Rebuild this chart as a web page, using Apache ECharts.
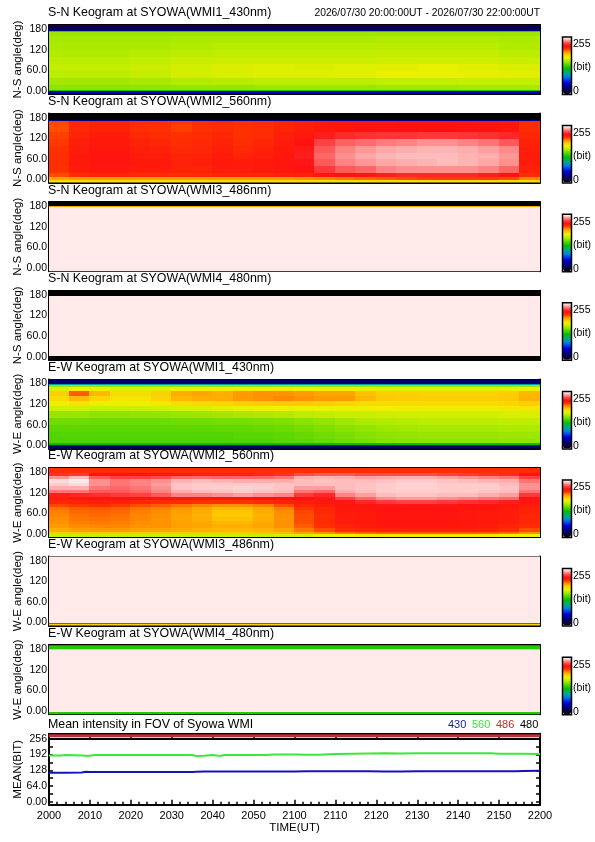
<!DOCTYPE html>
<html><head><meta charset="utf-8">
<script src="https://cdn.jsdelivr.net/npm/echarts@6/dist/echarts.min.js"></script>
<style>html,body{margin:0;padding:0;background:#fff}#c{width:595px;height:842px}</style>
</head><body><div id="c"></div>
<script>
// ---------------- DATA ----------------
const timeTickLabels = ['2000','2010','2020','2030','2040','2050','2100','2110','2120','2130','2140','2150','2200'];
const angleTickValues = [0, 60, 120, 180];
const angleTickLabels = ['0.00', '60.0', '120', '180'];
const angleTickMarks = [0, 30, 60, 90, 120, 150, 180];
const meanTickValues = [0, 64, 128, 192, 256];
const meanTickLabels = ['0.00', '64.0', '128', '192', '256'];
const meanTickMarks = [0, 32, 64, 96, 128, 160, 192, 224, 256];

const headerText = '2026/07/30 20:00:00UT - 2026/07/30 22:00:00UT';
const panelTitles = [
  'S-N Keogram at SYOWA(WMI1_430nm)',
  'S-N Keogram at SYOWA(WMI2_560nm)',
  'S-N Keogram at SYOWA(WMI3_486nm)',
  'S-N Keogram at SYOWA(WMI4_480nm)',
  'E-W Keogram at SYOWA(WMI1_430nm)',
  'E-W Keogram at SYOWA(WMI2_560nm)',
  'E-W Keogram at SYOWA(WMI3_486nm)',
  'E-W Keogram at SYOWA(WMI4_480nm)'
];
const panelAxisNames = ['N-S angle(deg)','N-S angle(deg)','N-S angle(deg)','N-S angle(deg)',
                        'W-E angle(deg)','W-E angle(deg)','W-E angle(deg)','W-E angle(deg)'];
const meanTitle = 'Mean intensity in FOV of Syowa WMI';
const meanLegend = ['430', '560', '486', '480'];

// Keograms: angle bin edges (deg) and rows of intensity (bit); each row is split evenly over 20:00-22:00 UT
const sn430Edges = [-9,-4,0,4,20,40,60,80,100,120,140,160,172,176,180,192];
const sn430Rows = [
  [20],
  [45],
  [120],
  [143,143,144,145,145,146,146,146,147,147,148,148],
  [147,147,148,150,151,152,152,152,153,153,154,154],
  [152,152,154,158,160,161,161,162,164,164,163,162],
  [154,154,156,158,160,161,160,161,162,163,162,160],
  [152,152,153,155,156,156,156,156,157,157,157,155],
  [150,150,151,152,153,153,153,153,154,154,154,152],
  [149,149,149,150,151,151,151,151,152,152,152,150],
  [148,148,148,149,149,149,149,149,150,150,150,149],
  [146],
  [125],
  [30],
  [18]
];

const sn560Edges = [-9,0,8,20,40,60,80,100,120,140,160,172,176,192];
const sn560Rows = [
  [172],
  [186,188,188,188,188,188,188,188,188,188,188,188,190,192,194,196,198,200,202,202,202,202,200,192],
  [200,206,208,208,206,206,205,206,208,208,208,209,210,214,216,218,220,222,222,222,222,220,216,206],
  [204,212,214,214,212,212,209,210,212,212,213,214,216,226,232,234,238,240,240,240,240,238,234,210],
  [205,213,215,215,213,213,210,211,213,212,213,214,218,232,238,241,243,244,245,246,245,243,240,212],
  [205,213,215,215,212,212,209,210,212,210,212,214,220,234,240,243,245,246,246,246,245,244,241,212],
  [204,212,214,214,211,210,207,208,211,207,210,213,219,232,238,241,243,244,245,245,244,242,239,211],
  [203,211,213,213,209,208,205,207,209,205,208,212,216,228,233,235,237,238,240,240,238,236,232,210],
  [202,210,212,212,207,206,204,206,208,204,206,211,213,220,223,224,225,225,226,226,225,224,222,208],
  [200,207,209,209,205,204,202,204,206,204,205,209,211,214,215,216,216,217,217,217,216,216,215,206],
  [201,207,209,209,206,205,203,205,207,205,206,209,211,213,215,215,215,216,216,216,216,215,214,206],
  [30],
  [0]
];

const sn486Edges = [-9,180,183,192];
const sn486Rows = [[252], [185], [0]];

const sn480Edges = [-9,3,178,192];
const sn480Rows = [[0], [252], [0]];

const ew430Edges = [-9,-1,3,8,20,40,60,80,100,115,130,145,160,170,176,180,192];
const ew430Rows = [
  [25],
  [55],
  [115],
  [130,130,130,130,130,130,130,130,130,131,131,132,133,135,137,139,141,142,143,143,143,143,144,144],
  [131,131,131,131,131,131,131,131,131,132,132,133,135,137,139,141,143,144,145,145,145,145,146,146],
  [133,133,133,133,133,133,133,133,134,134,135,136,138,140,142,144,146,147,148,148,148,148,149,149],
  [137,137,136,136,136,136,137,137,138,138,139,140,142,144,147,149,150,151,152,152,152,152,153,153],
  [145,145,143,143,144,144,145,146,147,148,149,150,152,153,155,156,157,158,158,158,158,158,159,160],
  [157,158,155,155,156,157,159,160,162,164,165,166,166,166,166,166,166,167,167,167,167,167,168,169],
  [166,170,164,164,166,168,172,173,174,176,178,178,178,176,174,172,172,172,172,172,172,172,174,176],
  [172,182,174,170,170,174,182,184,184,188,190,192,190,188,188,182,178,177,176,176,176,176,178,183],
  [176,198,182,172,172,176,184,186,184,188,190,190,188,186,186,180,177,176,175,175,175,175,177,182],
  [160,165,164,160,160,161,164,165,165,166,166,167,166,165,165,163,162,162,162,162,162,162,163,164],
  [145],
  [90],
  [25]
];

const ew560Edges = [-9,0,8,20,30,40,50,60,70,80,90,100,110,120,130,140,150,160,170,180,192];
const ew560Rows = [
  [155,155,155,155,155,155,155,155,155,155,156,158,160,163,166,168,168,168,168,168,168,168,167,165],
  [176,178,178,178,178,178,178,178,178,178,179,181,186,190,194,196,198,198,198,198,198,197,195,190],
  [184,187,188,188,186,186,184,183,182,182,183,186,194,200,206,208,210,210,210,210,210,209,206,200],
  [188,191,192,192,190,190,187,186,184,184,186,190,198,204,210,212,214,214,214,214,213,212,210,205],
  [190,193,194,193,191,190,187,185,182,182,185,190,200,206,212,213,215,215,215,215,214,213,212,207],
  [191,194,195,194,192,190,186,184,180,180,184,190,200,206,212,213,215,215,215,215,214,213,212,208],
  [192,195,196,195,192,190,186,183,178,178,183,190,200,206,212,213,215,215,215,215,214,213,212,208],
  [193,196,197,196,193,191,187,184,179,179,184,191,201,207,213,213,215,215,215,215,214,213,212,209],
  [195,198,199,198,195,193,189,186,182,182,186,193,203,208,213,214,216,216,216,216,215,214,213,210],
  [201,203,204,203,200,198,195,192,190,190,193,200,207,211,215,215,218,218,218,218,217,216,215,212],
  [208,210,211,210,208,206,206,204,204,204,206,210,212,214,218,222,226,228,228,226,224,222,220,214],
  [212,214,215,215,214,214,214,213,214,214,216,216,216,218,228,234,240,242,242,240,238,236,234,218],
  [220,222,224,226,228,232,238,238,240,242,240,238,226,222,238,242,246,247,247,246,246,244,242,226],
  [236,236,232,232,234,238,244,246,247,248,247,246,236,234,244,246,248,248,248,248,248,247,246,236],
  [244,244,236,234,236,240,247,248,248,249,248,247,242,242,246,247,248,249,249,248,248,248,247,240],
  [248,250,240,236,238,242,247,248,248,248,248,247,246,246,246,247,248,249,249,248,248,248,246,240],
  [250,252,240,236,238,240,245,246,245,244,244,244,246,247,246,246,247,248,248,247,246,245,244,236],
  [240,246,232,228,228,230,234,235,234,234,234,236,244,245,244,242,243,244,244,242,240,238,236,228],
  [224,226,218,216,216,218,218,220,220,220,222,224,230,232,232,230,230,230,230,228,226,224,222,218],
  [205]
];

const ew486Edges = [-9,-4,-1,192];
const ew486Rows = [[175], [222], [252]];

const ew480Edges = [-9,-2,0,180,182,192];
const ew480Rows = [[122], [172], [252], [172], [122]];

// Mean intensity in FOV (minutes after 20:00 UT)
const meanTimes = [0,3,4,8,9,10,11,20,30,35,36,38,40,41,42,43,50,53,55,60,63,66,70,78,82,86,90,100,108,110,114,116,120];
const mean560   = [188,188,190,188,187,187,190,190,190,190,186,187,190,188,187,190,190,190,192,192,191,191,194,196,197,196,197,197,197,195,195,195,194];
const mean430   = [118,118,118,119,122,121,121,121,121,121,122,123,123,123,123,123,123,123,123,123,124,124,124,124,123,123,124,124,124,124,124,125,126];
const flatTimes = [0, 120];
const mean486   = [268, 268];
const mean480   = [255, 255];

// colour table (0 -> 255 bit)
const colorTable = ['#000000','#14003c','#000070','#0000a8','#0000e0','#0040f0','#0080e0','#00a0a0',
  '#00b060','#00c000','#40d000','#80e000','#c0ee00','#f0f000','#ffc800','#ff8c00','#ff3000',
  '#ff1010','#ff4848','#ffa0a0','#ffffff'];

// ---------------- CHART ----------------
const keograms = [
  [sn430Edges, sn430Rows], [sn560Edges, sn560Rows], [sn486Edges, sn486Rows], [sn480Edges, sn480Rows],
  [ew430Edges, ew430Rows], [ew560Edges, ew560Rows], [ew486Edges, ew486Rows], [ew480Edges, ew480Rows]
];
const SPAN = 120;
function cells(edges, rows) {
  const out = [];
  rows.forEach((row, r) => {
    const n = row.length;
    row.forEach((v, c) => out.push([c * SPAN / n, (c + 1) * SPAN / n, edges[r], edges[r + 1], v]));
  });
  return out;
}

const FONT = '"Liberation Sans", Arial, sans-serif';
const BOX_L = 49, BOX_W = 491;
const KEO_H = 69;
const tops = [25, 113.6, 202.2, 290.8, 379.4, 468, 556.6, 645.2];
const meanTop = 733.8, MEAN_H = 71;

const lineBlack = {color: '#000', width: 2};
const tickStyle = {color: '#000', width: 1.5};

function xAxes(gi, showLabels) {
  const base = {
    gridIndex: gi, type: 'value', min: 0, max: SPAN, interval: 10,
    axisLine: {onZero: false, lineStyle: lineBlack},
    axisTick: {inside: true, length: 5, lineStyle: tickStyle},
    minorTick: {show: true, splitNumber: 5, length: 3, lineStyle: tickStyle},
    splitLine: {show: false}, minorSplitLine: {show: false}
  };
  return [
    Object.assign({}, base, {position: 'bottom',
      axisLabel: showLabels ? {show: true, margin: 6, color: '#000', fontFamily: FONT, fontSize: 11,
        formatter: v => timeTickLabels[Math.round(v / 10)]} : {show: false},
      name: showLabels ? 'TIME(UT)' : '', nameLocation: 'middle', nameGap: 17, nameMoveOverlap: false,
      nameTextStyle: {color: '#000', fontFamily: FONT, fontSize: 11.5}}),
    Object.assign({}, base, {position: 'top', axisLabel: {show: false}})
  ];
}
function yAxes(gi, min, max, tickVals, tickLabels, tickMarks, name) {
  const base = {
    gridIndex: gi, type: 'value', min: min, max: max,
    axisLine: {onZero: false, lineStyle: lineBlack},
    axisTick: {inside: true, length: 4, lineStyle: tickStyle, customValues: tickMarks},
    splitLine: {show: false}
  };
  return [
    Object.assign({}, base, {position: 'left',
      axisLabel: {show: true, margin: 2, color: '#000', fontFamily: FONT, fontSize: 10.5,
        customValues: tickVals, formatter: v => tickLabels[tickVals.indexOf(v)]},
      name: name, nameLocation: 'middle', nameRotate: 90, nameGap: 25, nameMoveOverlap: false,
      nameTextStyle: {color: '#000', fontFamily: FONT, fontSize: 11.5}}),
    Object.assign({}, base, {position: 'right', axisLabel: {show: false}})
  ];
}

const grid = [], xAxis = [], yAxis = [], series = [], visualMap = [], graphic = [];

keograms.forEach((k, i) => {
  grid.push({left: BOX_L, top: tops[i], width: BOX_W, height: KEO_H, show: false,
             containLabel: false, outerBoundsMode: 'none'});
  xAxis.push(...xAxes(i, false));
  yAxis.push(...yAxes(i, -9, 192, angleTickValues, angleTickLabels, angleTickMarks, panelAxisNames[i]));
  series.push({
    type: 'custom', xAxisIndex: 2 * i, yAxisIndex: 2 * i, clip: true,
    dimensions: ['t0', 't1', 'a0', 'a1', 'v'],
    encode: {x: [0, 1], y: [2, 3]},
    data: cells(k[0], k[1]),
    renderItem: function (params, api) {
      const p0 = api.coord([api.value(0), api.value(3)]);
      const p1 = api.coord([api.value(1), api.value(2)]);
      const x0 = Math.floor(p0[0]), y0 = Math.floor(p0[1]);
      const x1 = Math.ceil(p1[0]), y1 = Math.ceil(p1[1]);
      return {type: 'rect', shape: {x: x0, y: y0, width: x1 - x0, height: y1 - y0},
              style: {fill: api.visual('color')}};
    }
  });
  const cbTop = tops[i] + 12.5;
  visualMap.push({
    type: 'continuous', min: 0, max: 255, seriesIndex: i, dimension: 4,
    calculable: false, orient: 'vertical', left: 563, top: cbTop, padding: 0,
    itemWidth: 8, itemHeight: 56.5, text: null, hoverLink: false,
    inRange: {color: colorTable}
  });
  graphic.push({type: 'rect', z: 100, silent: true,
    shape: {x: 562.5, y: cbTop - 0.5, width: 9, height: 57.5},
    style: {fill: null, stroke: '#000', lineWidth: 1.5}});
  graphic.push({type: 'text', z: 100, x: 573, y: cbTop + 7,
    style: {text: '255', font: '10.5px ' + FONT, fill: '#000', textVerticalAlign: 'middle'}});
  graphic.push({type: 'text', z: 100, x: 573, y: cbTop + 30,
    style: {text: '(bit)', font: '10.5px ' + FONT, fill: '#000', textVerticalAlign: 'middle'}});
  graphic.push({type: 'text', z: 100, x: 573, y: cbTop + 54,
    style: {text: '0', font: '10.5px ' + FONT, fill: '#000', textVerticalAlign: 'middle'}});
  graphic.push({type: 'text', z: 100, x: 48, y: tops[i] - 12,
    style: {text: panelTitles[i], font: '12.4px ' + FONT, fill: '#000', textVerticalAlign: 'middle'}});
});

graphic.push({type: 'text', z: 100, x: 540, y: tops[0] - 12,
  style: {text: headerText, font: '10.3px ' + FONT, fill: '#000', textAlign: 'right', textVerticalAlign: 'middle'}});

// mean intensity panel
grid.push({left: BOX_L, top: meanTop, width: BOX_W, height: MEAN_H, show: false,
           containLabel: false, outerBoundsMode: 'none'});
xAxis.push(...xAxes(8, true));
yAxis.push(...yAxes(8, -12, 276, meanTickValues, meanTickLabels, meanTickMarks, 'MEAN(BIT)'));
const lineColors = ['#1414b4', '#3ce63c', '#c03030', '#000000'];
const legendColors = ['#1414b4', '#3ce63c', '#d02828', '#000000'];
const lineSets = [[meanTimes, mean430], [meanTimes, mean560], [flatTimes, mean486], [flatTimes, mean480]];
lineSets.forEach((s, j) => {
  series.push({
    type: 'line', xAxisIndex: 16, yAxisIndex: 16, showSymbol: false, clip: true,
    data: s[0].map((t, k) => [t, s[1][k]]),
    lineStyle: {color: lineColors[j], width: j === 2 ? 3 : 2},
    itemStyle: {color: lineColors[j]}
  });
});
graphic.push({type: 'text', z: 100, x: 48, y: meanTop - 9,
  style: {text: meanTitle, font: '12.4px ' + FONT, fill: '#000', textVerticalAlign: 'middle'}});
const legendX = [448, 472, 496, 520];
meanLegend.forEach((t, j) => {
  graphic.push({type: 'text', z: 100, x: legendX[j], y: meanTop - 9,
    style: {text: t, font: '11px ' + FONT, fill: legendColors[j], textVerticalAlign: 'middle'}});
});

const chart = echarts.init(document.getElementById('c'), null, {renderer: 'canvas'});
chart.setOption({
  animation: false,
  backgroundColor: '#fff',
  grid, xAxis, yAxis, series, visualMap, graphic
});
</script></body></html>
